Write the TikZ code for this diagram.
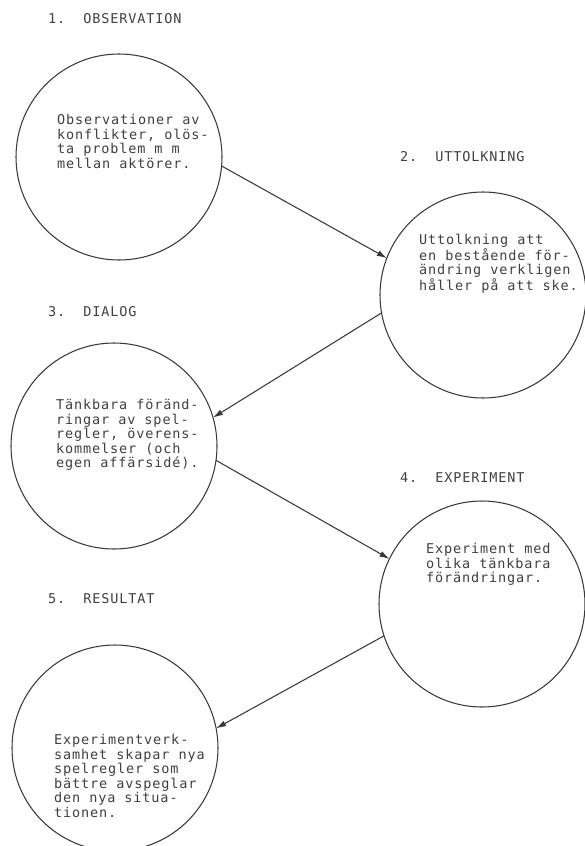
\documentclass[tikz,border=0pt]{standalone}
\usepackage{fontspec}
\newfontfamily\typewriter{DejaVu Sans Mono}[LetterSpace=6.5]
\usetikzlibrary{arrows.meta}
\begin{document}
\begin{tikzpicture}[x=1pt,y=-1pt,
  ink/.style={draw=black!78, line width=1.05pt},
  stage/.style={circle, ink, minimum size=206pt, inner sep=0pt, outer sep=0pt},
  heading/.style={anchor=west, inner sep=0pt, text=black!75,
    font=\typewriter\fontsize{13.5}{14}\selectfont},
  body/.style={anchor=north west, inner sep=0pt, align=left, text=black!75,
    font=\typewriter\fontsize{13.5}{14.6}\selectfont},
  flow/.style={ink, -{Latex[length=10pt,width=6pt]}}]

% page area
\useasboundingbox (0,0) rectangle (585,846);
\clip (0,0) rectangle (585,846);
\fill[white] (0,0) rectangle (585,846);

% stage circles
\node[stage] (c1) at (119,157) {};
\node[stage] (c2) at (483,295) {};
\node[stage] (c3) at (114,446) {};
\node[stage] (c4) at (482,604) {};
\node[stage] (c5) at (115,748) {};

% stage headings
\node[heading] (h1) at (48,19)  {1.\ \ OBSERVATION};
\node[heading] (h2) at (400,157) {2.\ \ UTTOLKNING};
\node[heading] (h3) at (48,312) {3.\ \ DIALOG};
\node[heading] (h4) at (400,478) {4.\ \ EXPERIMENT};
\node[heading] (h5) at (48,599) {5.\ \ RESULTAT};

% texts inside the circles
\node[body] (t1) at (57,114) {Observationer av\\konflikter, olös-\\ta problem m m\\mellan aktörer.};
\node[body] (t2) at (419,234) {Uttolkning att\\en bestående för-\\ändring verkligen\\håller på att ske.};
\node[body] (t3) at (56,399) {Tänkbara föränd-\\ringar av spel-\\regler, överens-\\kommelser (och\\egen affärsidé).};
\node[body] (t4) at (426,543) {Experiment med\\olika tänkbara\\förändringar.};
\node[body] (t5) at (54,734) {Experimentverk-\\samhet skapar nya\\spelregler som\\bättre avspeglar\\den nya situa-\\tionen.};

% connectors between the stages
\draw[flow] (c1.-5.5) -- (c2.159.8);
\draw[flow] (c2.-170.4) -- (c3.16);
\draw[flow] (c3.-8.7) -- (c4.154);
\draw[flow] (c4.-162.6) -- (c5.11.6);
\end{tikzpicture}
\end{document}
